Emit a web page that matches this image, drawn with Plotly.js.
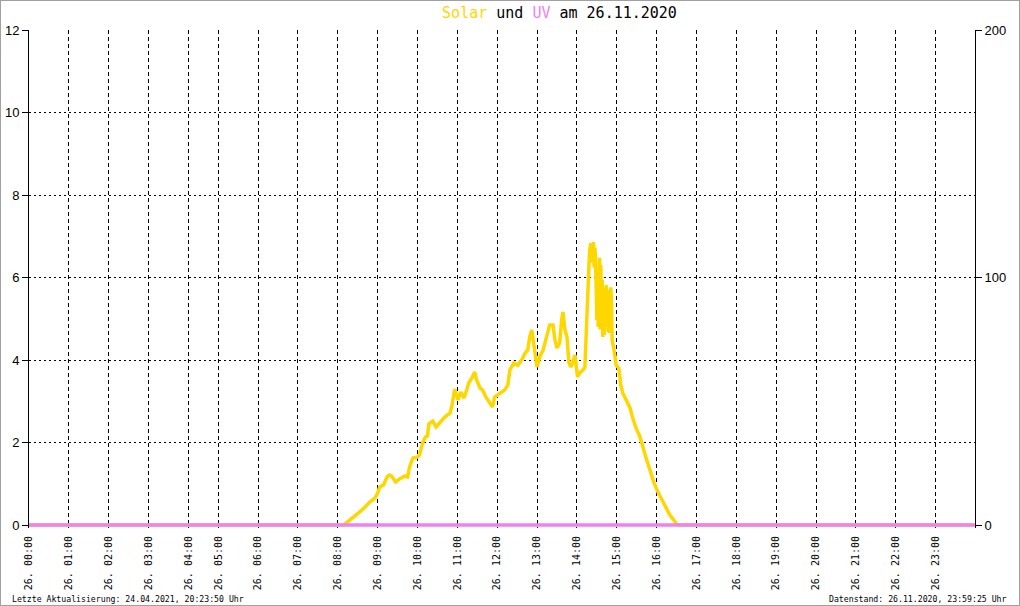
<!DOCTYPE html>
<html>
<head>
<meta charset="utf-8">
<script src="https://cdn.plot.ly/plotly-3.0.1.min.js"></script>
<style>
html,body{margin:0;padding:0;background:#fff;}
#wrap{position:relative;width:1020px;height:606px;}
#chart{width:1020px;height:606px;}
#frame{position:absolute;left:0;top:0;width:1018px;height:604px;border:1px solid #a0a0a0;pointer-events:none;}
</style>
</head>
<body>
<div id="wrap"><div id="chart"></div><div id="frame"></div></div>
<script>
const DAY = "2020-11-26";

// Solar radiation (W/m², right axis)
const solarTimes = ["00:00","04:00","06:00","08:00","08:09","08:14","08:18","08:26","08:33","08:41","08:48","08:56",
  "09:00","09:03","09:09","09:14","09:18","09:21","09:27","09:33","09:41","09:45","09:48","09:53",
  "10:00","10:03","10:08","10:12","10:15","10:17","10:23","10:28","10:34","10:38","10:41","10:49","10:52","10:56",
  "11:01","11:05","11:10","11:14","11:17","11:22","11:26","11:29","11:34","11:38","11:43","11:49","11:53","11:56",
  "12:04","12:11","12:16","12:19","12:25","12:31","12:37","12:42","12:46","12:49","12:52","12:57",
  "13:00","13:04","13:09","13:13","13:18","13:19","13:24","13:27","13:30","13:34","13:37","13:39","13:42","13:45","13:48","13:51","13:54","13:57",
  "14:01","14:04","14:09","14:12","14:13","14:15","14:17","14:18","14:19","14:21","14:23","14:25",
  "14:26","14:27","14:28","14:29","14:30","14:31","14:32","14:33","14:34","14:35","14:36","14:37","14:38","14:39",
  "14:40","14:41","14:42","14:43","14:44","14:45","14:46","14:47","14:48","14:49","14:50","14:51","14:52","14:53",
  "14:56","14:59",
  "15:03","15:06","15:09","15:15","15:20","15:24","15:29","15:35","15:39","15:45","15:50","15:56",
  "16:02","16:08","16:14","16:20","16:26","16:30","16:33","18:00","20:00","22:00","23:59"];
const solarValues = [0,0,0,0,0,1.2,2.0,3.6,5.3,7.3,9.3,10.9,
  12.9,15.4,16.2,19.4,20.2,19.8,17.4,18.6,19.8,19.4,23.4,27.1,
  27.5,28.3,33.5,35.6,36.0,40.8,42.0,39.6,41.6,42.8,43.6,45.3,48.5,54.9,
  50.5,53.7,51.3,54.5,57.4,59.4,61.8,58.6,55.4,54.5,51.7,49.3,47.7,51.7,
  53.3,54.5,56.6,62.6,65.5,64.6,66.7,69.5,70.7,76.0,78.8,70.7,
  63.8,67.9,70.7,74.7,80.0,80.8,80.8,74.7,71.5,73.5,82.8,86.1,78.8,76.0,65.5,63.8,65.9,68.7,
  59.8,61.4,62.6,63.8,70.7,86.9,98.0,105.9,110.5,113.9,106.0,114.3,
  104.0,112.0,108.3,96.0,82.8,103.0,80.0,88.9,108.0,79.0,105.0,80.8,99.0,76.0,
  96.0,76.8,95.0,80.0,97.0,82.8,95.0,78.0,95.0,77.6,94.0,96.0,91.0,74.7,
  70.7,64.6,
  63.4,56.6,53.3,49.7,47.3,43.2,39.2,35.6,31.5,26.3,22.2,17.0,
  13.3,10.1,6.9,4.0,2.0,0.4,0,0,0,0,0];

// UV index (left axis)
const uvTimes = ["00:00","02:00","04:00","06:00","08:00","10:00","12:00","14:00","16:00","18:00","20:00","22:00","23:59"];
const uvValues = [0,0,0,0,0,0,0,0,0,0,0,0,0];

// x-axis tick labels
const hourLabels = ["00:00","01:00","02:00","03:00","04:00","05:00","06:00","07:00","08:00","09:00","10:00","11:00",
  "12:00","13:00","14:00","15:00","16:00","17:00","18:00","19:00","20:00","21:00","22:00","23:00"];
const leftTicks = [0,2,4,6,8,10,12];
const rightTicks = [0,100,200];

const toDate = t => DAY + " " + t;

const mono = "DejaVu Sans Mono, monospace";
const sans = "Liberation Sans, Arial, sans-serif";

// plot area extends 3px below the zero line so the thick zero-level lines are not clipped
const PAD = 3, PLOT_H = 495;

const traces = [
  {x: solarTimes.map(toDate), y: solarValues, yaxis: "y", type: "scatter", mode: "lines",
   line: {color: "#FFD700", width: 3.5}, name: "Solar", hoverinfo: "skip"},
  {x: uvTimes.map(toDate), y: uvValues, yaxis: "y2", type: "scatter", mode: "lines",
   line: {color: "#EE82EE", width: 3.5}, name: "UV", hoverinfo: "skip"}
];

const layout = {
  width: 1020, height: 606,
  margin: {l: 29, r: 45, t: 30, b: 81 - PAD, pad: 0},
  paper_bgcolor: "#fff", plot_bgcolor: "#fff",
  showlegend: false,
  title: {
    text: '<span style="color:#FFD700">Solar</span> und <span style="color:#EE82EE">UV</span> am 26.11.2020',
    font: {family: mono, size: 15, color: "#000"},
    xref: "container", yref: "container", x: 559.5/1020, xanchor: "center", y: 1 - 13/606, yanchor: "middle"
  },
  xaxis: {
    type: "date",
    range: [toDate("00:00"), toDate("23:59:25")],
    rangebreaks: [{values: [toDate("04:20:00")], dvalue: 15*60*1000}],
    tickmode: "array",
    tickvals: hourLabels.map(toDate),
    ticktext: hourLabels.map(h => "26. " + h),
    tickangle: -90,
    tickfont: {family: mono, size: 10, color: "#000"},
    ticks: "", ticklabelstandoff: 5,
    showgrid: true, gridcolor: "#000", gridwidth: 1, griddash: "4px,3px",
    showline: false,
    zeroline: false, layer: "below traces", fixedrange: true
  },
  yaxis: {
    side: "right",
    range: [-PAD * 200 / PLOT_H, 200], tickmode: "array", tickvals: rightTicks,
    tickfont: {family: sans, size: 13, color: "#000"},
    ticks: "outside", ticklen: 6, tickcolor: "#000", tickwidth: 1,
    showgrid: false, showline: true, linecolor: "#000", linewidth: 1, zeroline: false, fixedrange: true
  },
  yaxis2: {
    overlaying: "y", side: "left",
    range: [-PAD * 12 / PLOT_H, 12], tickmode: "array", tickvals: leftTicks,
    tickfont: {family: sans, size: 13, color: "#000"},
    ticks: "outside", ticklen: 6, tickcolor: "#000", tickwidth: 1,
    showgrid: true, gridcolor: "#000", gridwidth: 1, griddash: "2px,3px",
    showline: true, linecolor: "#000", linewidth: 1, zeroline: false, fixedrange: true
  },
  annotations: [
    {text: "Letzte Aktualisierung: 24.04.2021, 20:23:50 Uhr", xref: "paper", yref: "paper",
     x: (10-29)/946, y: (528-599)/498, xanchor: "left", yanchor: "middle", showarrow: false,
     font: {family: mono, size: 8.2, color: "#000"}},
    {text: "Datenstand: 26.11.2020, 23:59:25 Uhr", xref: "paper", yref: "paper",
     x: (1009-29)/946, y: (528-599)/498, xanchor: "right", yanchor: "middle", showarrow: false,
     font: {family: mono, size: 8.2, color: "#000"}}
  ]
};

Plotly.newPlot("chart", traces, layout, {displayModeBar: false, staticPlot: true});
</script>
</body>
</html>
